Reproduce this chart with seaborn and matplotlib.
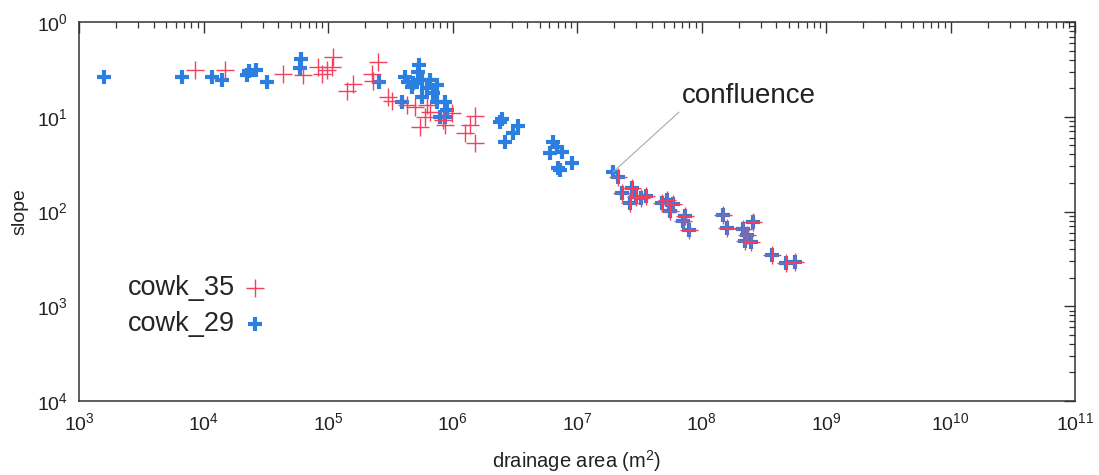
import numpy as np
import pandas as pd
import matplotlib
matplotlib.use("Agg")
import matplotlib.pyplot as plt
from matplotlib.ticker import FixedLocator, FixedFormatter, LogLocator, NullFormatter
import seaborn as sns

# ---------------- data ----------------
# upstream part of cowk_29 (blue only)
area_29_up = [1.59e3, 6.71e3, 1.17e4, 1.41e4, 2.23e4, 2.32e4, 2.64e4, 3.24e4, 6.07e4, 5.96e4,
              2.57e5, 5.38e5, 5.28e5, 4.15e5, 4.39e5, 4.82e5, 4.73e5, 5.69e5, 6.59e5, 7.51e5,
              6.24e5, 5.69e5, 6.97e5, 7.51e5, 8.71e5, 3.93e5, 9.04e5, 7.94e5, 8.71e5,
              2.50e6, 2.41e6, 3.36e6, 3.06e6, 2.64e6, 6.41e6, 6.07e6, 7.59e6, 6.90e6, 7.30e6,
              7.03e6, 9.12e6, 1.95e7]
slope_29_up = [0.263, 0.263, 0.263, 0.244, 0.276, 0.304, 0.311, 0.233, 0.407, 0.327,
               0.233, 0.352, 0.297, 0.263, 0.233, 0.227, 0.206, 0.244, 0.244, 0.216,
               0.201, 0.162, 0.178, 0.143, 0.143, 0.143, 0.118, 0.0994, 0.0994,
               0.0947, 0.0881, 0.0798, 0.0674, 0.0541, 0.0541, 0.0415, 0.0425, 0.0480, 0.0274,
               0.0288, 0.0325, 0.0261]

# upstream part of cowk_35 (red only)
area_35_up = [8.55e3, 1.49e4, 4.36e4, 6.30e4, 8.31e4, 9.82e4, 8.96e4, 1.10e5, 1.08e5, 2.52e5,
              2.26e5, 2.30e5, 1.42e5, 1.59e5, 3.03e5, 3.27e5, 4.31e5, 5.00e5, 6.24e5, 6.59e5,
              6.02e5, 5.48e5, 9.91e5, 8.40e5, 8.71e5, 1.52e6, 1.38e6, 1.26e6, 1.52e6]
slope_35_up = [0.311, 0.311, 0.283, 0.276, 0.335, 0.311, 0.283, 0.427, 0.335, 0.378,
               0.283, 0.238, 0.187, 0.222, 0.162, 0.147, 0.133, 0.127, 0.133, 0.112,
               0.0994, 0.0780, 0.110, 0.0924, 0.0818, 0.102, 0.0818, 0.0674, 0.0528]

# downstream of the confluence (shared by both series)
area_down = [2.13e7, 2.30e7, 2.77e7, 2.67e7, 2.98e7, 3.27e7, 3.58e7, 4.82e7, 5.28e7, 5.90e7,
             5.58e7, 7.36e7, 7.10e7, 7.94e7, 1.49e8, 1.60e8, 2.15e8, 2.59e8, 2.32e8, 2.23e8,
             2.50e8, 3.68e8, 4.77e8, 5.64e8]
slope_down = [0.0231, 0.0157, 0.0177, 0.0123, 0.0142, 0.0139, 0.0146, 0.0123, 0.0132, 0.0120,
              0.0101, 0.00896, 0.00794, 0.00638, 0.00919, 0.00670, 0.00653, 0.00775, 0.00565, 0.00489,
              0.00476, 0.00347, 0.00286, 0.00293]

series_names = ["cowk_35", "cowk_29"]
y_tick_values = [1e0, 1e-1, 1e-2, 1e-3, 1e-4]
y_tick_labels = ["$10^{0}$", "$10^{1}$", "$10^{2}$", "$10^{3}$", "$10^{4}$"]
x_tick_values = [1e3, 1e4, 1e5, 1e6, 1e7, 1e8, 1e9, 1e10, 1e11]
x_tick_labels = ["$10^{3}$", "$10^{4}$", "$10^{5}$", "$10^{6}$", "$10^{7}$",
                 "$10^{8}$", "$10^{9}$", "$10^{10}$", "$10^{11}$"]
confluence_xy = (1.95e7, 0.0261)
confluence_text_xy = (7.0e7, 0.165)

RED = "#f4405e"
BLUE = "#2b7fe0"

# ---------------- style ----------------
sns.set_theme(style="white")
plt.rcParams["font.family"] = ["Liberation Sans", "DejaVu Sans"]
plt.rcParams["mathtext.fontset"] = "custom"
plt.rcParams["mathtext.rm"] = "Liberation Sans"
plt.rcParams["mathtext.it"] = "Liberation Sans:italic"
plt.rcParams["mathtext.bf"] = "Liberation Sans:bold"

df29 = pd.DataFrame({"area": area_29_up + area_down, "slope": slope_29_up + slope_down})
df35 = pd.DataFrame({"area": area_35_up + area_down, "slope": slope_35_up + slope_down})

fig = plt.figure(figsize=(10.99, 4.75), dpi=100)
ax = fig.add_axes([79 / 1099, 1 - 401 / 475, (1075 - 79) / 1099, (401 - 22) / 475])

ax.set_xscale("log")
ax.set_yscale("log")

sns.scatterplot(data=df29, x="area", y="slope", marker="+", s=110, linewidth=3.0,
                color=BLUE, ax=ax, label=series_names[1], zorder=3)
sns.scatterplot(data=df35, x="area", y="slope", marker="+", s=150, linewidth=1.0,
                color=RED, ax=ax, label=series_names[0], zorder=4)

ax.set_xlim(1e3, 1e11)
ax.set_ylim(1e-4, 1e0)

ax.xaxis.set_major_locator(FixedLocator(x_tick_values))
ax.xaxis.set_major_formatter(FixedFormatter(x_tick_labels))
ax.xaxis.set_minor_locator(LogLocator(base=10, subs=np.arange(2, 10), numticks=20))
ax.xaxis.set_minor_formatter(NullFormatter())
ax.yaxis.set_major_locator(FixedLocator(y_tick_values))
ax.yaxis.set_major_formatter(FixedFormatter(y_tick_labels))
ax.yaxis.set_minor_locator(LogLocator(base=10, subs=np.arange(2, 10), numticks=20))
ax.yaxis.set_minor_formatter(NullFormatter())

ax.tick_params(which="both", direction="in", top=True, right=True, colors="#333333",
               labelcolor="#222222", labelsize=14)
ax.tick_params(which="major", length=8, width=1.0, pad=8)
ax.tick_params(which="minor", length=4, width=0.9)
for sp in ax.spines.values():
    sp.set_color("#333333")
    sp.set_linewidth(1.1)

ax.set_xlabel("drainage area (m$^{2}$)", fontsize=14.5, color="#222222", labelpad=10)
ax.set_ylabel("slope", fontsize=14, color="#222222", labelpad=6)

# legend: text then marker
handles, labels = ax.get_legend_handles_labels()
order = [labels.index(series_names[0]), labels.index(series_names[1])]
leg = ax.legend([handles[i] for i in order], [labels[i] for i in order],
                loc="upper left", bbox_to_anchor=(0.049, 0.332), frameon=False,
                markerfirst=False, fontsize=19.5, handletextpad=0.35, labelspacing=0.38,
                handlelength=0.8, borderaxespad=0, borderpad=0)

ax.annotate("confluence", xy=confluence_xy, xytext=confluence_text_xy,
            fontsize=20, color="#222222", ha="left", va="center",
            arrowprops=dict(arrowstyle="-", color="#aaaaaa", lw=0.8,
                            shrinkA=0, shrinkB=0, relpos=(0.0, 0.0)))

fig.savefig("out.png", dpi=100)
